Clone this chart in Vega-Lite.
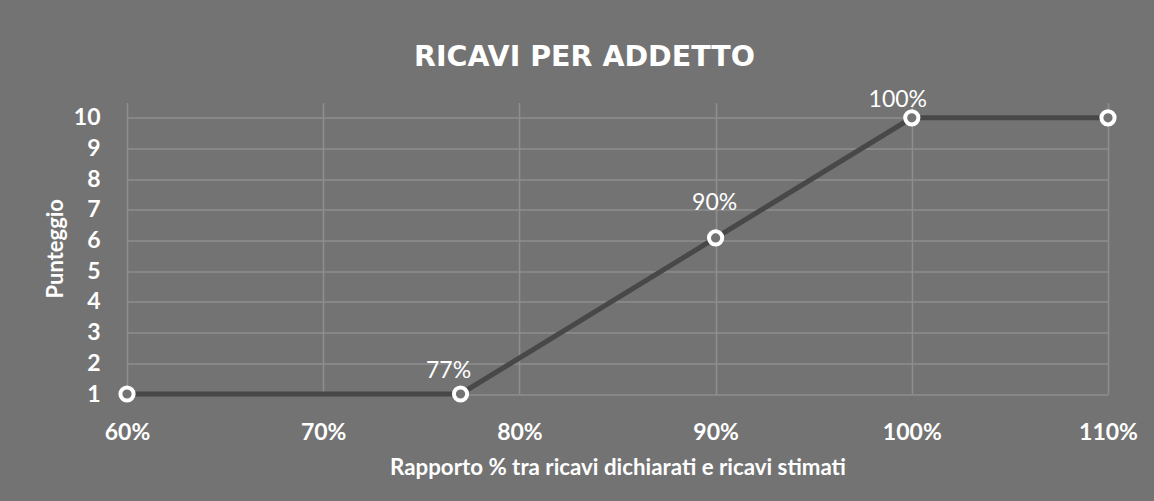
{
  "$schema": "https://vega.github.io/schema/vega-lite/v6.json",
  "autosize": {"type": "none"},
  "width": 981,
  "height": 291.5,
  "padding": {"left": 127, "top": 102.5, "right": 46, "bottom": 107},
  "background": "#737373",
  "config": {
    "view": {"stroke": null},
    "font": "Lato"
  },
  "title": {
    "text": "RICAVI PER ADDETTO",
    "font": "DejaVu Sans",
    "fontSize": 28.5,
    "fontWeight": "bold",
    "color": "#ffffff",
    "anchor": "middle",
    "baseline": "alphabetic",
    "offset": -5,
    "dx": -33
  },
  "data": {
    "values": [
      {"rapporto": 0.6, "punteggio": 1, "label": ""},
      {"rapporto": 0.77, "punteggio": 1, "label": "77%"},
      {"rapporto": 0.9, "punteggio": 6.087, "label": "90%"},
      {"rapporto": 1.0, "punteggio": 10, "label": "100%"},
      {"rapporto": 1.1, "punteggio": 10, "label": ""}
    ]
  },
  "encoding": {
    "x": {
      "field": "rapporto",
      "type": "quantitative",
      "scale": {"domain": [0.6, 1.1], "nice": false, "zero": false},
      "axis": {
        "values": [0.6, 0.7, 0.8, 0.9, 1.0, 1.1],
        "format": ".0%",
        "title": "Rapporto % tra ricavi dichiarati e ricavi stimati",
        "titleFont": "Lato",
        "titleFontSize": 22.3,
        "titleFontWeight": "bold",
        "titleColor": "#ffffff",
        "titleY": 73,
        "titleBaseline": "middle",
        "labelFont": "Lato",
        "labelFontSize": 23,
        "labelFontWeight": "bold",
        "labelColor": "#ffffff",
        "labelBaseline": "middle",
        "labelPadding": 38,
        "ticks": false,
        "tickSize": 0,
        "domain": false,
        "grid": true,
        "gridColor": "#8e8e8e",
        "gridWidth": 1.5,
        "labelFlush": false
      }
    },
    "y": {
      "field": "punteggio",
      "type": "quantitative",
      "scale": {"domain": [1, 10.5], "nice": false, "zero": false},
      "axis": {
        "values": [1, 2, 3, 4, 5, 6, 7, 8, 9, 10],
        "title": "Punteggio",
        "titleFont": "Lato",
        "titleFontSize": 22,
        "titleFontWeight": "bold",
        "titleColor": "#ffffff",
        "titleX": -72,
        "titleY": 145.75,
        "titleAnchor": "middle",
        "titleBaseline": "middle",
        "titleAngle": -90,
        "labelFont": "Lato",
        "labelFontSize": 23,
        "labelFontWeight": "bold",
        "labelColor": "#ffffff",
        "labelPadding": 27,
        "ticks": false,
        "tickSize": 0,
        "domain": false,
        "grid": true,
        "gridColor": "#8e8e8e",
        "gridWidth": 1.5,
        "labelFlush": false
      }
    }
  },
  "layer": [
    {
      "mark": {"type": "line", "color": "#484848", "strokeWidth": 5}
    },
    {
      "mark": {"type": "point", "shape": "circle", "filled": false, "fill": "#737373", "stroke": "#ffffff", "strokeWidth": 4, "size": 175, "opacity": 1}
    },
    {
      "transform": [{"filter": "datum.label == '77%'"}],
      "mark": {"type": "text", "font": "Lato", "fontSize": 23, "color": "#ffffff", "baseline": "middle", "align": "center", "dx": -12, "dy": -23.5},
      "encoding": {"text": {"field": "label"}}
    },
    {
      "transform": [{"filter": "datum.label == '90%'"}],
      "mark": {"type": "text", "font": "Lato", "fontSize": 23, "color": "#ffffff", "baseline": "middle", "align": "center", "dx": -1, "dy": -34.5},
      "encoding": {"text": {"field": "label"}}
    },
    {
      "transform": [{"filter": "datum.label == '100%'"}],
      "mark": {"type": "text", "font": "Lato", "fontSize": 23, "color": "#ffffff", "baseline": "middle", "align": "center", "dx": -14, "dy": -17.5},
      "encoding": {"text": {"field": "label"}}
    }
  ]
}
